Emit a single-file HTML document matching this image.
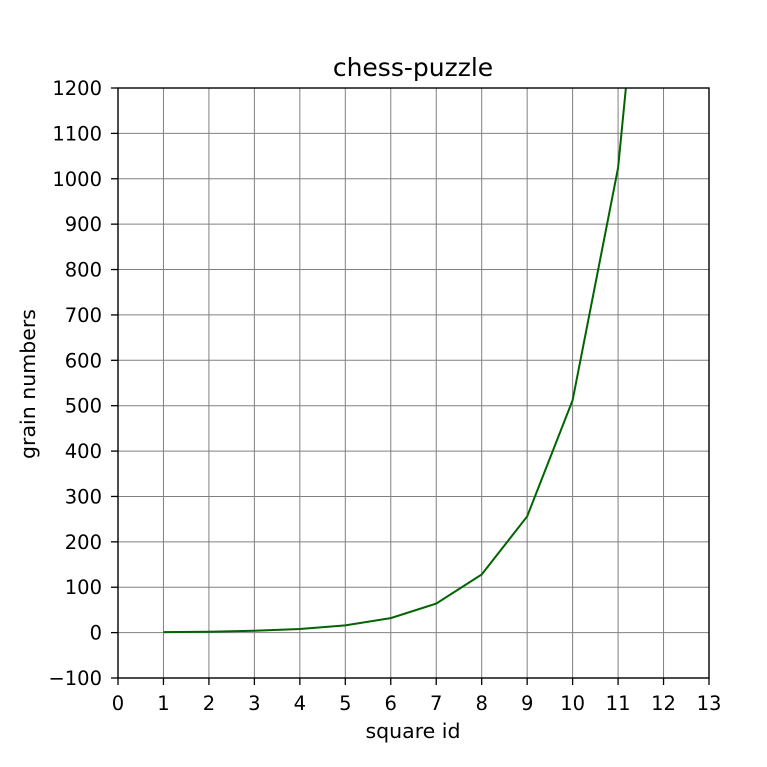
<!DOCTYPE html>
<html><head><meta charset="utf-8"><style>
html,body{margin:0;padding:0;background:#fff;}
svg{display:block;font-family:"DejaVu Sans","Liberation Sans",sans-serif;}
</style></head><body>
<svg id="chart" width="767" height="767" viewBox="0 0 767 767" xmlns="http://www.w3.org/2000/svg">
<defs><clipPath id="plotclip"><rect x="118" y="88" width="591" height="590"/></clipPath></defs>
<rect x="0" y="0" width="767" height="767" fill="#fff"/>
<g id="grid"></g>
<g id="series" clip-path="url(#plotclip)"></g>
<rect x="118" y="88" width="591" height="590" fill="none" stroke="#000" stroke-width="1.4"/>
<g id="axes"></g>
<text x="413" y="76" text-anchor="middle" font-size="25">chess-puzzle</text>
<text x="413" y="738" text-anchor="middle" font-size="20.5">square id</text>
<text transform="translate(35,384) rotate(-90)" text-anchor="middle" font-size="20.5">grain numbers</text>
</svg>
<script>
const squares = [1,2,3,4,5,6,7,8,9,10,11,12,13];
const grains = [1,2,4,8,16,32,64,128,256,512,1024,2048,4096];
const xTicks = [0,1,2,3,4,5,6,7,8,9,10,11,12,13];
const yTicks = [-100,0,100,200,300,400,500,600,700,800,900,1000,1100,1200];

const L=118,R=709,T=88,B=678;
const xMin=0,xMax=13,yMin=-100,yMax=1200;
const sx=v=>L+(v-xMin)/(xMax-xMin)*(R-L);
const sy=v=>B-(v-yMin)/(yMax-yMin)*(B-T);
const NS="http://www.w3.org/2000/svg";
function mk(tag,attrs,parent){const e=document.createElementNS(NS,tag);for(const k in attrs)e.setAttribute(k,attrs[k]);parent.appendChild(e);return e;}
const grid=document.getElementById('grid'),axes=document.getElementById('axes'),series=document.getElementById('series');

xTicks.forEach(v=>{
  const x=sx(v);
  const g=mk('line',{x1:x,x2:x,y1:T,y2:B,stroke:'#808080','stroke-width':1},grid);
  
  
  const t=mk('line',{x1:x,x2:x,y1:B,y2:B+7,stroke:'#000','stroke-width':1.3},axes);
  
  
  const lb=mk('text',{x:x,y:B+32,'text-anchor':'middle','font-size':19.5},axes);
  lb.textContent=v;
  
  
});
yTicks.forEach(v=>{
  const y=sy(v);
  const g=mk('line',{x1:L,x2:R,y1:y,y2:y,stroke:'#808080','stroke-width':1},grid);
  
  
  const t=mk('line',{x1:L-7,x2:L,y1:y,y2:y,stroke:'#000','stroke-width':1.3},axes);
  
  
  const lb=mk('text',{x:L-16,y:y+7,'text-anchor':'end','font-size':19.5},axes);
  lb.textContent=v<0?'\u2212'+Math.abs(v):v;
  
  
});
const pts=squares.map((s,i)=>sx(s)+','+sy(grains[i])).join(' ');
const line=mk('polyline',{points:pts,fill:'none',stroke:'#006400','stroke-width':2},series);


</script>
</body></html>
